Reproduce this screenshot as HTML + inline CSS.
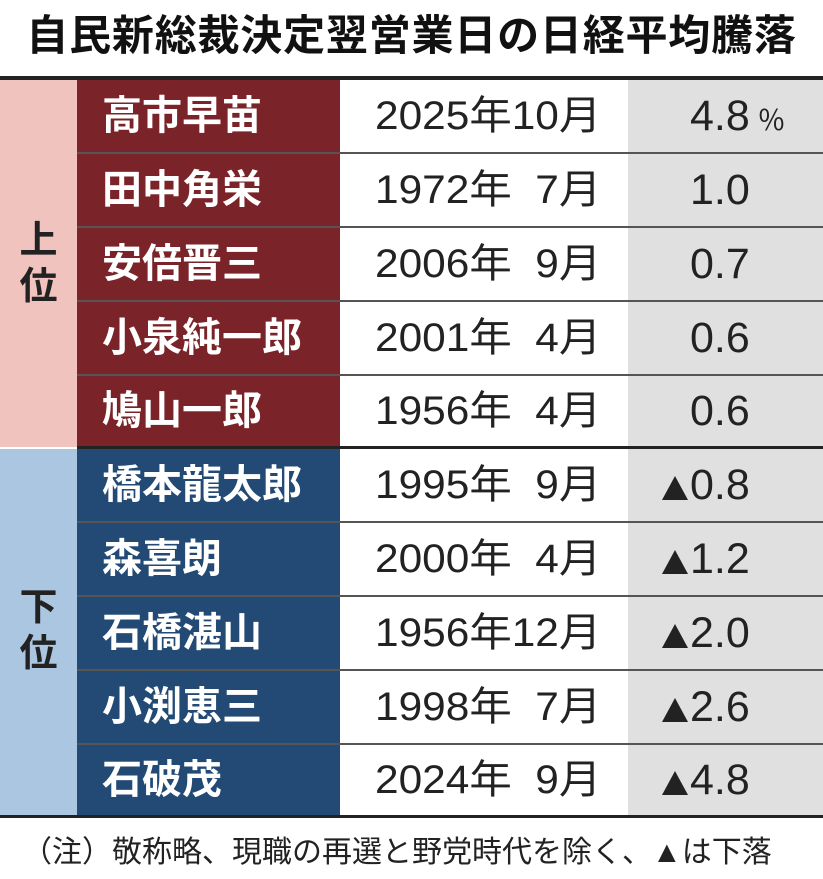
<!DOCTYPE html>
<html><head><meta charset="utf-8"><style>
body{margin:0;width:823px;height:879px;background:#fff;position:relative;overflow:hidden;font-family:"Liberation Sans","Noto Sans CJK JP",sans-serif}
.t{position:absolute;left:0;top:2px;width:823px;text-align:center;font-size:42px;font-weight:bold;color:#111;letter-spacing:0.8px;white-space:nowrap}
.a{position:absolute}
.row{position:absolute;left:77px;width:746px;height:72px}
.n{position:absolute;left:0;top:0;width:263px;height:72px;color:#fff;font-weight:bold;font-size:40px;line-height:72px;padding-left:25px;box-sizing:border-box;white-space:nowrap}
.d{position:absolute;left:298px;top:0;font-size:40px;line-height:72px;color:#222;white-space:pre;transform:scaleX(1.06);transform-origin:left}
.v{position:absolute;left:551px;top:0;width:195px;height:72px;background:#e0e0e0;font-size:43px;line-height:72px;color:#222;white-space:pre}
.v span.x{position:absolute;left:62px}
.v span.y{position:absolute;left:62px}
.tri{position:absolute;left:-28px;top:27px;width:0;height:0;border-left:13px solid transparent;border-right:13px solid transparent;border-bottom:24px solid #222}
.g{position:absolute;left:0;width:77px;font-size:38px;font-weight:bold;color:#222;text-align:center;line-height:46px}
</style></head><body>
<div class="t">自民新総裁決定翌営業日の日経平均騰落</div>
<div class="a" style="left:0;top:76px;width:823px;height:4px;background:#222"></div>
<div class="a" style="left:0;top:80px;width:77px;height:367px;background:#f1c3be"></div>
<div class="a" style="left:0;top:449px;width:77px;height:366px;background:#aac6e1"></div>
<div class="g" style="top:218px">上<br>位</div>
<div class="g" style="top:585px">下<br>位</div>
<div class="a" style="left:77px;top:80px;width:746px;height:736px;background:#555"></div>
<div class="row" style="top:80px"><div class="n" style="background:#7a2328">高市早苗</div><div class="a" style="left:263px;width:288px;height:72px;background:#fff"></div><div class="d">2025年10月</div><div class="v"><span class="x">4.8<span style="font-size:28px"> ％</span></span></div></div>
<div class="row" style="top:154px"><div class="n" style="background:#7a2328">田中角栄</div><div class="a" style="left:263px;width:288px;height:72px;background:#fff"></div><div class="d">1972年  7月</div><div class="v"><span class="x">1.0</span></div></div>
<div class="row" style="top:228px"><div class="n" style="background:#7a2328">安倍晋三</div><div class="a" style="left:263px;width:288px;height:72px;background:#fff"></div><div class="d">2006年  9月</div><div class="v"><span class="x">0.7</span></div></div>
<div class="row" style="top:302px"><div class="n" style="background:#7a2328">小泉純一郎</div><div class="a" style="left:263px;width:288px;height:72px;background:#fff"></div><div class="d">2001年  4月</div><div class="v"><span class="x">0.6</span></div></div>
<div class="row" style="top:376px;height:70px"><div class="n" style="background:#7a2328;height:70px;line-height:70px">鳩山一郎</div><div class="a" style="left:263px;width:288px;height:70px;background:#fff"></div><div class="d" style="line-height:70px">1956年  4月</div><div class="v" style="height:70px;line-height:70px"><span class="x">0.6</span></div></div>
<div class="a" style="left:77px;top:446px;width:746px;height:3px;background:#222"></div>
<div class="row" style="top:449px"><div class="n" style="background:#234a75">橋本龍太郎</div><div class="a" style="left:263px;width:288px;height:72px;background:#fff"></div><div class="d">1995年  9月</div><div class="v"><span class="y"><i class="tri"></i>0.8</span></div></div>
<div class="row" style="top:523px"><div class="n" style="background:#234a75">森喜朗</div><div class="a" style="left:263px;width:288px;height:72px;background:#fff"></div><div class="d">2000年  4月</div><div class="v"><span class="y"><i class="tri"></i>1.2</span></div></div>
<div class="row" style="top:597px"><div class="n" style="background:#234a75">石橋湛山</div><div class="a" style="left:263px;width:288px;height:72px;background:#fff"></div><div class="d">1956年12月</div><div class="v"><span class="y"><i class="tri"></i>2.0</span></div></div>
<div class="row" style="top:671px"><div class="n" style="background:#234a75">小渕恵三</div><div class="a" style="left:263px;width:288px;height:72px;background:#fff"></div><div class="d">1998年  7月</div><div class="v"><span class="y"><i class="tri"></i>2.6</span></div></div>
<div class="row" style="top:745px;height:70px"><div class="n" style="background:#234a75;height:70px;line-height:70px">石破茂</div><div class="a" style="left:263px;width:288px;height:70px;background:#fff"></div><div class="d" style="line-height:70px">2024年  9月</div><div class="v" style="height:70px;line-height:70px"><span class="y"><i class="tri" style="top:26px"></i>4.8</span></div></div>
<div class="a" style="left:0;top:815px;width:823px;height:3px;background:#222"></div>
<div class="a" style="left:22px;top:827px;font-size:30px;color:#222;white-space:nowrap">（注）敬称略、現職の再選と野党時代を除く、▲は下落</div>
</body></html>
